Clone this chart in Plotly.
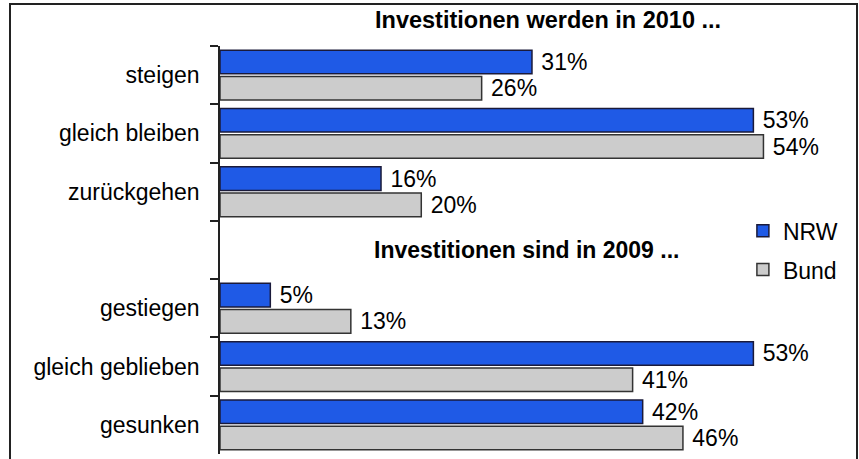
import plotly.graph_objects as go

categories = ["steigen", "gleich bleiben", "zurückgehen", " ", "gestiegen", "gleich geblieben", "gesunken"]
nrw = [31, 53, 16, None, 5, 53, 42]
bund = [26, 54, 20, None, 13, 41, 46]
title_2010 = "Investitionen werden in 2010 ..."
title_2009 = "Investitionen sind in 2009 ..."

FONT = "Arial, Liberation Sans, sans-serif"
FS = 23

def labels(vals):
    return ["" if v is None else f" {v}%" for v in vals]

fig = go.Figure()
fig.add_trace(go.Bar(
    y=categories, x=nrw, name="NRW", orientation="h", legendgroup="a",
    marker=dict(color="#1F5AE6", line=dict(color="#1a1a3a", width=1.5)),
    text=labels(nrw), textposition="outside", cliponaxis=False, constraintext="none",
    textfont=dict(size=FS, color="black", family=FONT),
))
fig.add_trace(go.Bar(
    y=categories, x=bund, name="Bund", orientation="h", legendgroup="b",
    marker=dict(color="#CCCCCC", line=dict(color="#333333", width=1.5)),
    text=labels(bund), textposition="outside", cliponaxis=False, constraintext="none",
    textfont=dict(size=FS, color="black", family=FONT),
))

fig.update_layout(
    width=859, height=459,
    margin=dict(l=220, r=9, t=46, b=5),
    paper_bgcolor="white", plot_bgcolor="white",
    barmode="group", bargap=0.1, bargroupgap=0.1,
    font=dict(family=FONT, size=FS, color="black"),
    showlegend=True,
    legend=dict(x=0.83, y=0.6, xanchor="left", yanchor="top",
                font=dict(size=FS), bgcolor="rgba(0,0,0,0)",
                itemwidth=30, tracegroupgap=6),
    xaxis=dict(range=[0, 62.6], visible=False),
    yaxis=dict(
        categoryorder="array", categoryarray=categories, autorange="reversed",
        showline=True, linecolor="#222222", linewidth=1.5,
        ticks="outside", tickson="boundaries", ticklen=8, tickcolor="#222222",
        tickwidth=1.5, showgrid=False, zeroline=False,
        tickfont=dict(size=FS), ticklabelstandoff=14,
    ),
    annotations=[
        dict(text=f"<b>{title_2010}</b>", x=0.521, y=1.064, xref="paper", yref="paper",
             xanchor="center", yanchor="middle",
             showarrow=False, font=dict(size=FS + 0.5)),
        dict(text=f"<b>{title_2009}</b>", x=0.486, y=0.5, xref="paper", yref="paper",
             xanchor="center", yanchor="middle",
             showarrow=False, font=dict(size=FS)),
    ],
    shapes=[
        dict(type="rect", xref="paper", yref="paper",
             x0=(10 - 220) / 630, x1=(857 - 220) / 630,
             y0=-0.1, y1=1 + (46 - 4) / 408,
             line=dict(color="#222222", width=2), layer="below"),
    ],
)

fig.write_html("out.html", config={"displayModeBar": False},
               post_script="document.body.style.margin='0';document.body.style.overflow='hidden';")
